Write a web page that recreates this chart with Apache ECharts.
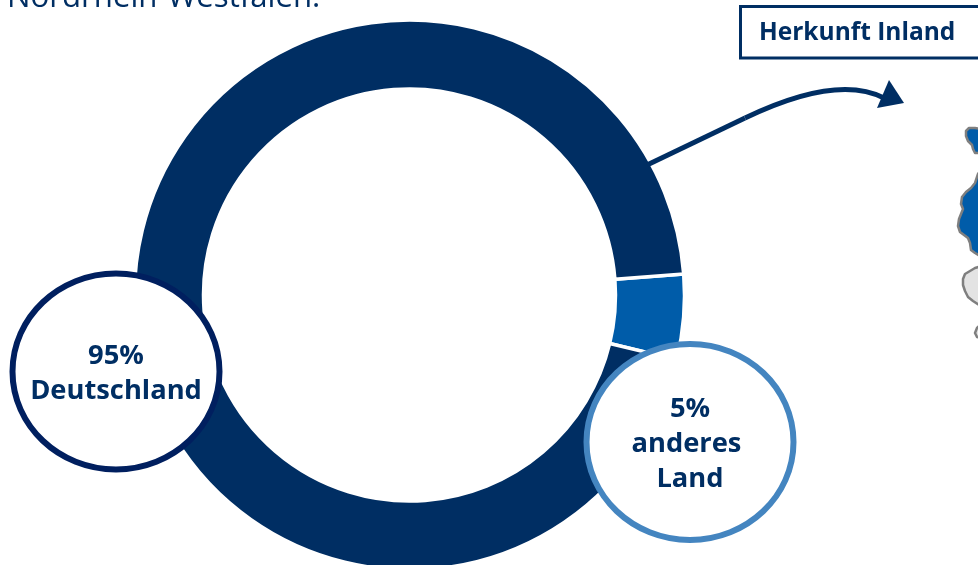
<!DOCTYPE html>
<html>
<head>
<meta charset="utf-8">
<style>
  html, body { margin: 0; padding: 0; background: #fff; overflow: hidden; }
  #chart { width: 978px; height: 565px; }
</style>
<script src="https://cdn.jsdelivr.net/npm/echarts@6/dist/echarts.min.js"></script>
</head>
<body>
<div id="chart"></div>
<script>
const categories = ["anderes Land", "Deutschland"];
const shares = [5, 95];
const sliceColors = ["#005CA9", "#002E63"];
const titleText = "Nordrhein-Westfalen.";
const boxText = "Herkunft Inland";

const darkBlue = "#002E63";
const font = "'Open Sans', sans-serif";

// Umrisse der Karte rechts, vom Bildrand abgeschnitten
const mapTop = [[982,129],[975,128],[969,128],[966,131],[966,136],[968,141],[972,145],[973,149],[975,153],[982,153]];
const mapBlue = [[982,168],[978,174],[975,183],[971,188],[966,192],[962,197],[961,204],[963,209],[961,214],[959,219],[958,226],[960,232],[964,235],[968,238],[970,243],[971,250],[975,253],[982,257]];
const mapGrey = [[982,266],[975,268],[970,271],[965,274],[963,279],[963,285],[965,291],[968,297],[973,301],[982,307]];
const mapBottom = [[982,323],[977,328],[975,333],[977,337],[982,338]];

function mapShape(points, fill) {
  return {
    type: "polygon",
    z: 20,
    shape: { points: points },
    style: { fill: fill, stroke: "#7f7f7f", lineWidth: 2.5, lineJoin: "round" },
  };
}

function bubble(cx, cy, stroke, lines, lineGap) {
  return [
    {
      type: "ellipse",
      z: 30,
      shape: { cx: cx, cy: cy, rx: 103.5, ry: 98 },
      style: { fill: "#fff", stroke: stroke, lineWidth: 6 },
    },
    {
      type: "text",
      z: 31,
      x: cx,
      y: cy + 2,
      style: {
        text: lines.join("\n"),
        font: "bold 27.3px " + font,
        lineHeight: lineGap,
        fill: darkBlue,
        align: "center",
        verticalAlign: "middle",
      },
    },
  ];
}

const chart = echarts.init(document.getElementById("chart"), null, { renderer: "canvas" });

chart.setOption({
  animation: false,
  backgroundColor: "#fff",
  series: [
    {
      type: "pie",
      silent: true,
      center: [409.5, 295],
      radius: [206, 275],
      startAngle: 4.4,
      label: { show: false },
      labelLine: { show: false },
      itemStyle: { borderColor: "#fff", borderWidth: 3.5 },
      data: categories.map((name, i) => ({
        name: name,
        value: shares[i],
        itemStyle: { color: sliceColors[i] },
      })),
    },
  ],
  graphic: [
    {
      type: "text",
      z: 20,
      x: 7,
      y: 14,
      style: {
        text: titleText,
        font: "31.2px " + font,
        fill: darkBlue,
        align: "left",
        verticalAlign: "bottom",
      },
    },
    {
      type: "rect",
      z: 20,
      shape: { x: 740.5, y: 6.5, width: 260, height: 51.5 },
      style: { fill: "#fff", stroke: darkBlue, lineWidth: 3 },
    },
    {
      type: "text",
      z: 21,
      x: 759,
      y: 33,
      style: {
        text: boxText,
        font: "bold 24.5px " + font,
        fill: darkBlue,
        align: "left",
        verticalAlign: "middle",
      },
    },
    {
      type: "line",
      z: 20,
      shape: { x1: 647, y1: 165, x2: 745, y2: 118 },
      style: { stroke: darkBlue, lineWidth: 5 },
    },
    {
      type: "bezierCurve",
      z: 20,
      shape: { x1: 745, y1: 118, cpx1: 790, cpy1: 96.4, cpx2: 845, cpy2: 78, x2: 884, y2: 98 },
      style: { stroke: darkBlue, lineWidth: 5, fill: "none" },
    },
    {
      type: "polygon",
      z: 21,
      shape: { points: [[889, 80], [904, 103], [877, 108]] },
      style: { fill: darkBlue },
    },
    mapShape(mapTop, "#005CA9"),
    mapShape(mapBlue, "#005CA9"),
    mapShape(mapGrey, "#E3E3E3"),
    mapShape(mapBottom, "#E3E3E3"),
    ...bubble(116, 371.5, "#001F5F", [shares[1] + "%", categories[1]], 35),
    ...bubble(690, 442, "#4485C0", [shares[0] + "%", "anderes ", "Land"], 35),
  ],
});
</script>
</body>
</html>
